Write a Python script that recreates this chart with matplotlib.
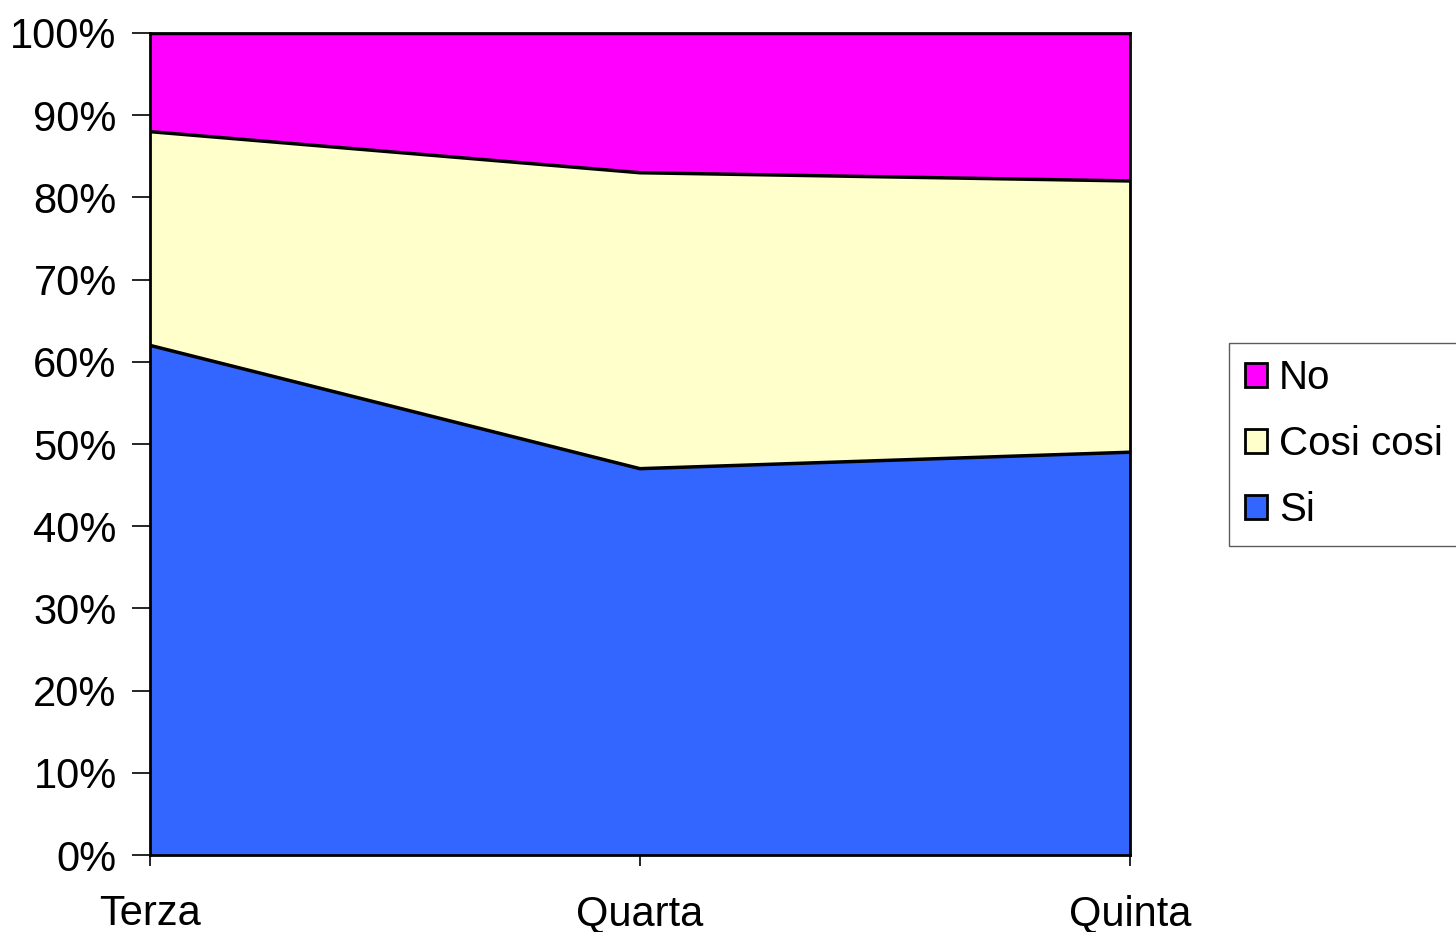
import numpy as np
import matplotlib.pyplot as plt
from matplotlib.patches import Patch
from matplotlib.ticker import PercentFormatter

plt.rcParams['font.family'] = ['Liberation Sans', 'DejaVu Sans']

classes = ["Terza", "Quarta", "Quinta"]
si = [62, 47, 49]
cosi_cosi = [26, 36, 33]
no = [12, 17, 18]

series = [("Si", si, "#3366FF"), ("Cosi cosi", cosi_cosi, "#FFFFCC"), ("No", no, "#FF00FF")]

fig = plt.figure(figsize=(14.56, 9.32), dpi=100)
ax = fig.add_axes([0.103, 0.0826, 0.673, 0.882])

x = np.arange(len(classes))
base = np.zeros(len(classes))
for name, vals, color in series:
    top = base + np.array(vals)
    ax.fill_between(x, base, top, color=color, linewidth=0)
    ax.plot(x, top, color="black", linewidth=2.5, solid_joinstyle="round")
    base = top

ax.set_xlim(0, len(classes) - 1)
ax.set_ylim(0, 100)
ax.set_yticks(np.arange(0, 101, 10))
ax.yaxis.set_major_formatter(PercentFormatter(decimals=0))
ax.set_xticks(x)
ax.set_xticklabels(classes)
ax.tick_params(axis="y", direction="out", length=13, width=1.2, labelsize=30, pad=11)
ax.tick_params(axis="x", direction="out", length=8, width=1.2, labelsize=30, pad=20)
for s in ax.spines.values():
    s.set_linewidth(2)
    s.set_color("black")

handles = [Patch(facecolor=c, edgecolor="black", linewidth=2, label=n)
           for n, _, c in reversed(series)]
leg = fig.legend(handles=handles, loc="upper left", bbox_to_anchor=(0.844, 0.632),
                 fontsize=29, frameon=True, fancybox=False, handlelength=0.55,
                 handleheight=0.55, handletextpad=0.3, labelspacing=0.7,
                 borderpad=0.4, borderaxespad=0)
leg.get_frame().set_edgecolor("#333333")
leg.get_frame().set_linewidth(1)

fig.savefig("out.png", dpi=100)
